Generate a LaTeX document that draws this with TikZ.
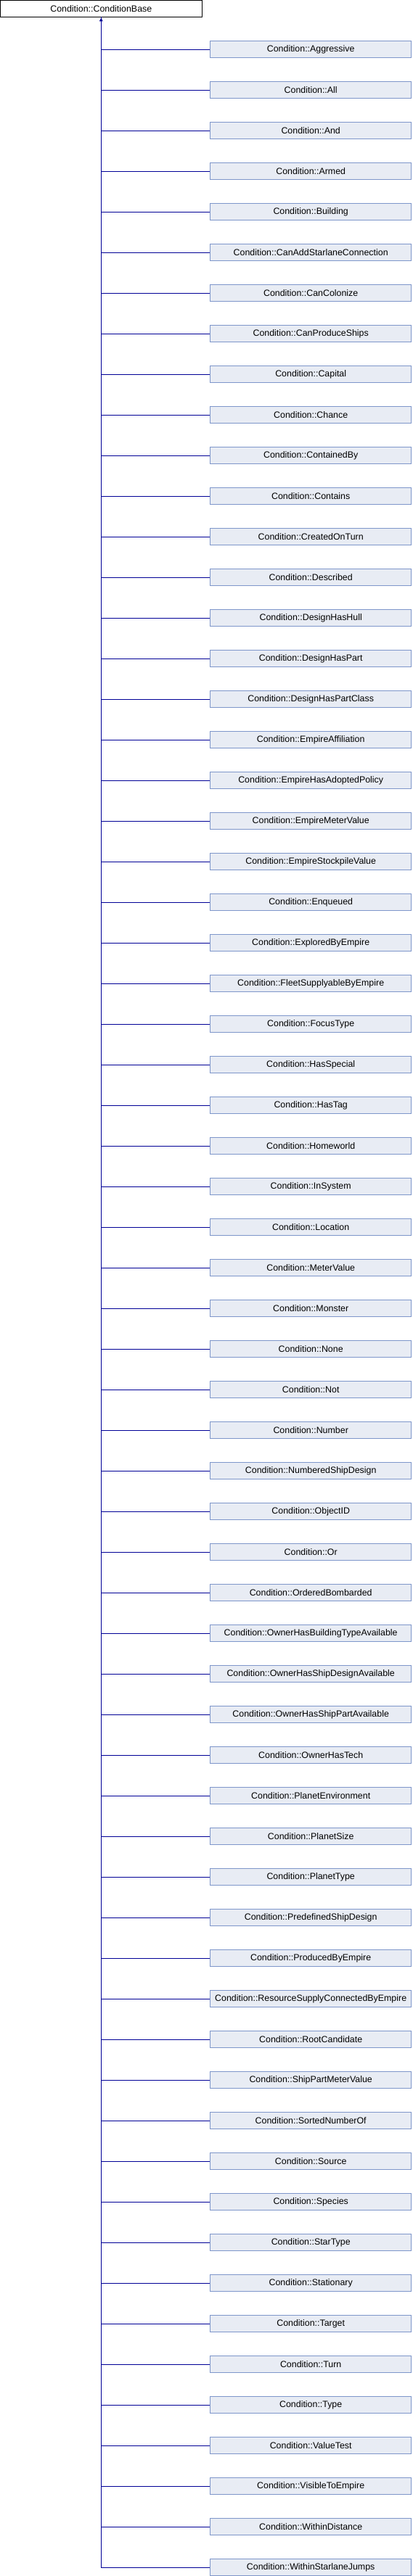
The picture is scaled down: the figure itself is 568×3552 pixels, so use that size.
\documentclass[tikz,border=0pt]{standalone}
\usepackage{fontspec}
\setmainfont{Liberation Sans}
\usepackage{tikz}
\usetikzlibrary{arrows.meta}
\usetikzlibrary{positioning}

\definecolor{boxfill}{RGB}{232,236,244}
\definecolor{boxedge}{RGB}{126,150,202}
\definecolor{linkblue}{RGB}{0,0,150}

\tikzset{
  classbox/.style={draw=boxedge, fill=boxfill, line width=1pt, minimum width=277.5pt, minimum height=22.5pt, inner sep=0pt},
  basebox/.style={draw=black, fill=white, line width=1pt, minimum width=277.5pt, minimum height=22.5pt, inner sep=0pt},
  link/.style={linkblue, line width=1pt}
}

\begin{document}
\begin{tikzpicture}[x=1pt, y=-1pt]
\fontsize{12.4}{14}\selectfont
\useasboundingbox (0,0) rectangle (568,3552);

\node[basebox] (base) at (139.3,11.8) {Condition::ConditionBase};

% derived classes, one every 56px
\foreach \name [count=\i] in {Aggressive, All, And, Armed, Building, CanAddStarlaneConnection, CanColonize, CanProduceShips, Capital, Chance, ContainedBy, Contains, CreatedOnTurn, Described, DesignHasHull, DesignHasPart, DesignHasPartClass, EmpireAffiliation, EmpireHasAdoptedPolicy, EmpireMeterValue, EmpireStockpileValue, Enqueued, ExploredByEmpire, FleetSupplyableByEmpire, FocusType, HasSpecial, HasTag, Homeworld, InSystem, Location, MeterValue, Monster, None, Not, Number, NumberedShipDesign, ObjectID, Or, OrderedBombarded, OwnerHasBuildingTypeAvailable, OwnerHasShipDesignAvailable, OwnerHasShipPartAvailable, OwnerHasTech, PlanetEnvironment, PlanetSize, PlanetType, PredefinedShipDesign, ProducedByEmpire, ResourceSupplyConnectedByEmpire, RootCandidate, ShipPartMeterValue, SortedNumberOf, Source, Species, StarType, Stationary, Target, Turn, Type, ValueTest, VisibleToEmpire, WithinDistance, WithinStarlaneJumps}
{
\node[classbox] (c\i) at (428.2,{68+(\i-1)*56}) {Condition::\name};
\draw[link] (base.south) |- (c\i.west);
}

\draw[link, {Triangle[width=4.5pt,length=4.5pt]}-, shorten <=1.2pt] (base.south) -- ++(0,12);

\end{tikzpicture}
\end{document}
